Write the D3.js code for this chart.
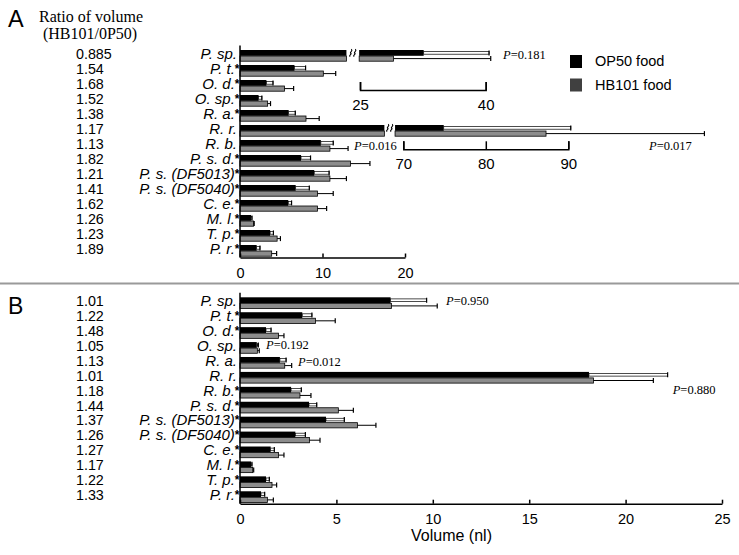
<!DOCTYPE html>
<html><head><meta charset="utf-8">
<script src="https://cdn.jsdelivr.net/npm/d3@7"></script>
<style>body{margin:0;background:#fff}svg{display:block}</style>
</head><body>
<svg id="c" width="739" height="555"></svg>
<script>
// ---------- DATA ----------
const species = ["P. sp.","P. t.","O. d.","O. sp.","R. a.","R. r.","R. b.","P. s. d.","P. s. (DF5013)","P. s. (DF5040)","C. e.","M. l.","T. p.","P. r."];
const starA = [0,1,1,1,1,0,0,1,1,1,1,1,1,1];
const starB = [0,1,1,0,0,0,1,1,1,1,1,1,1,1];
const ratioA = ["0.885","1.54","1.68","1.52","1.38","1.17","1.13","1.82","1.21","1.41","1.62","1.26","1.23","1.89"];
const ratioB = ["1.01","1.22","1.48","1.05","1.13","1.01","1.18","1.44","1.37","1.26","1.27","1.17","1.22","1.33"];
const op50A   = [32.6, 6.6, 3.2, 2.25, 5.9, 74.9, 9.8, 7.4, 9.0, 6.75, 5.85, 1.33, 3.65, 2.02];
const op50A_sd= [7.8, 1.35, 0.8, 0.4, 0.8, 15.4, 1.5, 1.15, 1.8, 1.65, 0.4, 0.12, 0.4, 0.4];
const hbA     = [29.0, 10.1, 5.4, 3.35, 8.0, 87.3, 10.9, 13.4, 10.9, 9.4, 9.4, 1.65, 4.5, 3.84];
const hbA_sd  = [11.6, 1.5, 1.1, 0.35, 1.6, 19.2, 2.2, 2.35, 2.0, 1.9, 1.1, 0.07, 0.4, 0.6];
const op50B   = [7.81, 3.23, 1.35, 0.87, 2.07, 18.1, 2.65, 3.58, 4.46, 2.87, 1.59, 0.57, 1.35, 1.09];
const op50B_sd= [1.87, 0.5, 0.26, 0.08, 0.32, 4.08, 0.53, 0.4, 0.95, 0.52, 0.19, 0.05, 0.17, 0.19];
const hbB     = [7.86, 3.92, 2.0, 0.9, 2.32, 18.33, 3.11, 5.1, 6.09, 3.6, 2.0, 0.66, 1.66, 1.42];
const hbB_sd  = [2.37, 1.02, 0.28, 0.1, 0.36, 3.11, 0.57, 0.78, 0.96, 0.55, 0.28, 0.05, 0.24, 0.31];
const ticksA = [0, 10, 20];
const ticksB = [0, 5, 10, 15, 20, 25];
const pA = [{sp:"P. sp.", t:"0.181"}, {sp:"R. b.", t:"0.016"}, {sp:"R. r.", t:"0.017"}];
const pB = [{sp:"P. sp.", t:"0.950"}, {sp:"O. sp.", t:"0.192"}, {sp:"R. a.", t:"0.012"}, {sp:"R. r.", t:"0.880"}];
const legendLabels = ["OP50 food", "HB101 food"];
// broken-axis rows in panel A
const breakRows = [
  {sp:"P. sp.", cut:12.9, resume:24.9, ticks:[25,40]},
  {sp:"R. r.", cut:17.5, resume:69, ticks:[70,80,90]}
];

// ---------- LAYOUT ----------
const svg = d3.select("#c");
const SANS = "'Liberation Sans', Arial, Helvetica, sans-serif";
const SERIF = "'Liberation Serif', 'Times New Roman', Times, serif";
const GRAY = "#8c8c8c";

const xA = d3.scaleLinear().domain([0,20]).range([240,405]);
const yA = d3.scaleBand().domain(species).range([48,258]);
const xB = d3.scaleLinear().domain([0,25]).range([240,722]);
const yB = d3.scaleBand().domain(species).range([295.3,504.2]);

const insetScales = {
  "P. sp.": d3.scaleLinear().domain([25,40]).range([360,485.7]),
  "R. r.": d3.scaleLinear().domain([70,90]).range([403.3,568.3])
};
const insetAxisY = {"P. sp.": 90, "R. r.": 149.3};
const pPosA = {"P. sp.":[503,59], "R. b.":[354,149.5], "R. r.":[649,149.5]};
const pPosB = {"P. sp.":[446,305], "O. sp.":[266,348.5], "R. a.":[298,366], "R. r.":[672.7,394]};

// ---------- helpers ----------
function errBar(g, x0, x1, yc, hollow){
  if (x1 <= x0) return;
  if (hollow){
    g.append("rect").attr("x",x0).attr("y",yc-1.3).attr("width",x1-x0).attr("height",2.6)
     .attr("fill","#fff").attr("stroke","#000").attr("stroke-width",0.7);
  } else {
    g.append("line").attr("x1",x0).attr("x2",x1).attr("y1",yc).attr("y2",yc)
     .attr("stroke","#000").attr("stroke-width",1);
  }
  g.append("line").attr("x1",x1).attr("x2",x1).attr("y1",yc-2.5).attr("y2",yc+2.5)
   .attr("stroke","#000").attr("stroke-width",1.2);
}
function barRect(g, x0, x1, y, h, fill){
  g.append("rect").attr("x",x0).attr("y",y).attr("width",Math.max(0,x1-x0)).attr("height",h)
   .attr("fill",fill).attr("stroke", "#000").attr("stroke-width", fill==="#000"?0:0.8);
}
function breakMark(g, xc, yc){
  [-2, 2].forEach(dx=>{
    const x = xc+dx;
    g.append("path")
     .attr("d",`M${x+0.6},${yc-3.8} C${x+2.6},${yc-1.6} ${x-1.6},${yc-0.6} ${x},${yc+0.3} C${x+1.4},${yc+1.2} ${x-2.4},${yc+2.2} ${x-0.6},${yc+3.8}`)
     .attr("fill","none").attr("stroke","#000").attr("stroke-width",1.1);
  });
}

function drawPanel(opts){
  const {x, y, op, opsd, hb, hbsd, stars, ratios, ticks, breaks} = opts;
  const g = svg.append("g");
  species.forEach((sp,i)=>{
    const top = y(sp);
    const yb = top+2, hbk = 5.8, yg = top+8, hg = 5.2;
    const br = breaks ? breaks.find(b=>b.sp===sp) : null;
    if (br){
      const xi = insetScales[sp];
      const xc = x(br.cut), xr = xi(br.resume);
      barRect(g, x(0), xc, yb, hbk, "#000");
      barRect(g, x(0), xc, yg, hg, GRAY);
      barRect(g, xr, xi(op[i]), yb, hbk, "#000");
      barRect(g, xr, xi(hb[i]), yg, hg, GRAY);
      errBar(g, xi(op[i]), xi(op[i]+opsd[i]), yb+hbk/2, true);
      errBar(g, xi(hb[i]), xi(hb[i]+hbsd[i]), yg+hg/2, false);
      breakMark(g, (xc+xr)/2, yb+hbk/2);
    } else {
      barRect(g, x(0), x(op[i]), yb, hbk, "#000");
      barRect(g, x(0), x(hb[i]), yg, hg, GRAY);
      errBar(g, x(op[i]), x(op[i]+opsd[i]), yb+hbk/2, true);
      errBar(g, x(hb[i]), x(hb[i]+hbsd[i]), yg+hg/2, false);
    }
    // species label (asterisk as a raised tspan)
    const base = top + 10.8;
    const lbl = g.append("text").attr("y",base).attr("text-anchor","end")
      .attr("font-family",SANS).attr("font-size",15);
    lbl.append("tspan").attr("font-style","italic").text(sp);
    if (stars[i]){
      lbl.attr("x",239.5);
      lbl.append("tspan").attr("font-size",12).attr("font-weight","bold").attr("dy",-1).text("*");
    } else lbl.attr("x",237);
    // ratio
    g.append("text").attr("x",76).attr("y",base).attr("font-family",SANS).attr("font-size",14.3).text(ratios[i]);
  });
  // axes
  const r = y.range();
  g.append("line").attr("x1",x(0)).attr("x2",x(0)).attr("y1",r[0]-2.5).attr("y2",r[1]-0.5)
   .attr("stroke","#000").attr("stroke-width",1.5);
  const ax = g.append("g").attr("transform",`translate(0,${r[1]-0.5})`)
    .call(d3.axisBottom(x).tickValues(ticks).tickSizeInner(-4).tickSizeOuter(0).tickPadding(10).tickFormat(d3.format("d")));
  ax.select(".domain").attr("stroke-width",1.5);
  ax.selectAll(".tick line").attr("stroke-width",1.5);
  ax.selectAll(".tick text").attr("font-family",SANS).attr("font-size",14.5).attr("fill","#000");
  return g;
}

// ---------- PANEL A ----------
const gA = drawPanel({x:xA, y:yA, op:op50A, opsd:op50A_sd, hb:hbA, hbsd:hbA_sd, stars:starA, ratios:ratioA, ticks:ticksA, breaks:breakRows});
breakRows.forEach(b=>{
  const ia = gA.append("g").attr("transform",`translate(0,${insetAxisY[b.sp]})`)
    .call(d3.axisBottom(insetScales[b.sp]).tickValues(b.ticks).tickSizeInner(-8).tickSizeOuter(-8).tickPadding(9).tickFormat(d3.format("d")));
  ia.select(".domain").attr("stroke-width",1.5);
  ia.selectAll(".tick line").attr("stroke-width",1.5);
  ia.selectAll(".tick text").attr("font-family",SANS).attr("font-size",15).attr("fill","#000");
});
function pText(g, pos, t){
  const tx = g.append("text").attr("x",pos[0]).attr("y",pos[1]).attr("font-family",SERIF).attr("font-size",12.5);
  tx.append("tspan").attr("font-style","italic").text("P");
  tx.append("tspan").text("=" + t);
}
pA.forEach(p=>pText(gA, pPosA[p.sp], p.t));

// header text
svg.append("text").attr("x",8).attr("y",27).attr("font-family",SANS).attr("font-size",23.5).text("A");
svg.append("text").attr("x",91).attr("y",22).attr("text-anchor","middle").attr("font-family",SERIF).attr("font-size",16).text("Ratio of volume");
svg.append("text").attr("x",90).attr("y",39).attr("text-anchor","middle").attr("font-family",SERIF).attr("font-size",16).text("(HB101/0P50)");

// legend
const legColors = ["#000", "#404040"];
legendLabels.forEach((l,i)=>{
  const ly = 55 + i*23.5;
  svg.append("rect").attr("x",570).attr("y",ly).attr("width",12).attr("height",13).attr("fill",legColors[i]);
  svg.append("text").attr("x",595).attr("y",ly+11).attr("font-family",SANS).attr("font-size",14.5).text(l);
});

// separator
svg.append("line").attr("x1",0).attr("x2",739).attr("y1",283.5).attr("y2",283.5).attr("stroke","#9a9a9a").attr("stroke-width",2);

// ---------- PANEL B ----------
const gB = drawPanel({x:xB, y:yB, op:op50B, opsd:op50B_sd, hb:hbB, hbsd:hbB_sd, stars:starB, ratios:ratioB, ticks:ticksB, breaks:null});
pB.forEach(p=>pText(gB, pPosB[p.sp], p.t));
svg.append("text").attr("x",8).attr("y",313.5).attr("font-family",SANS).attr("font-size",23).text("B");
svg.append("text").attr("x",451.5).attr("y",540.5).attr("text-anchor","middle").attr("font-family",SANS).attr("font-size",16).text("Volume (nl)");
</script>
</body></html>
